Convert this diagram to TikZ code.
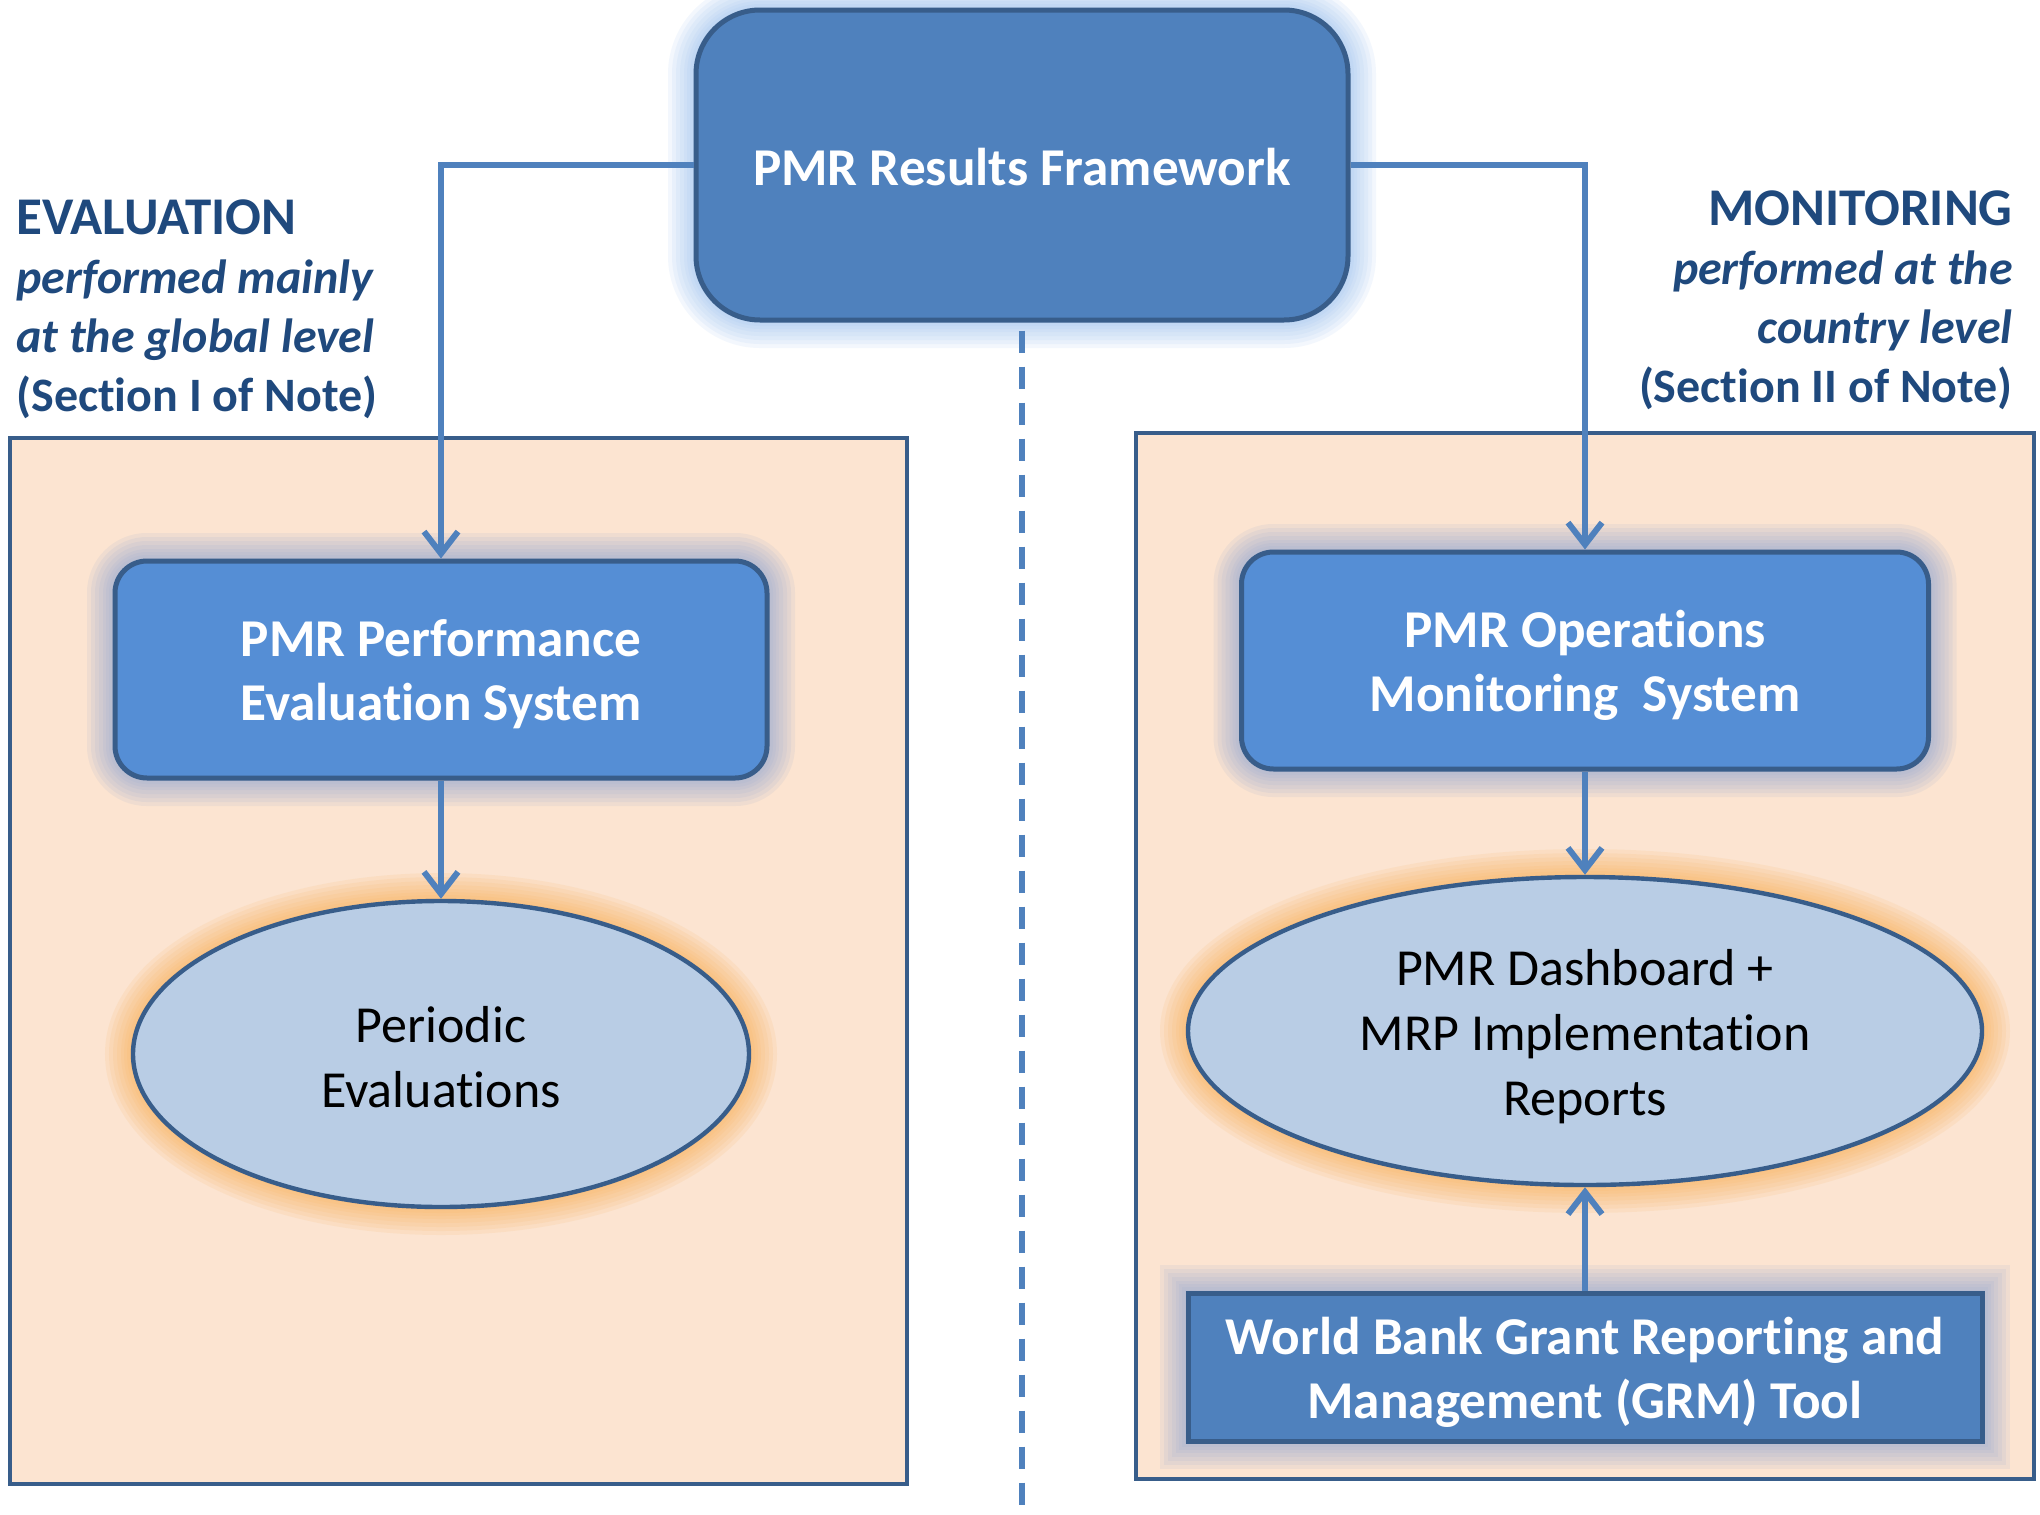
\documentclass[tikz,border=0pt]{standalone}
\usepackage{fontspec}
\setmainfont{Carlito}[Ligatures=NoCommon]
\usetikzlibrary{shapes.geometric,arrows.meta}
\definecolor{acc}{HTML}{4F81BD}
\definecolor{bord}{HTML}{385D8A}
\definecolor{boxmid}{HTML}{558ED5}
\definecolor{ellfill}{HTML}{B9CDE5}
\definecolor{panelfill}{HTML}{FCE4D1}
\definecolor{headtext}{HTML}{1F497D}
\definecolor{glowblue}{HTML}{9DC3F0}
\definecolor{glowgrey}{HTML}{93A9D0}
\definecolor{gloworange}{HTML}{F9B25C}
\begin{document}
\begin{tikzpicture}[x=0.5pt,y=-0.5pt,
  glow/.style={
    preaction={draw=#1,line width=28pt,draw opacity=0.12},
    preaction={draw=#1,line width=24pt,draw opacity=0.12},
    preaction={draw=#1,line width=20pt,draw opacity=0.12},
    preaction={draw=#1,line width=16pt,draw opacity=0.12},
    preaction={draw=#1,line width=12pt,draw opacity=0.12},
    preaction={draw=#1,line width=9pt,draw opacity=0.12},
    preaction={draw=#1,line width=6pt,draw opacity=0.12},
    preaction={draw=#1,line width=3pt,draw opacity=0.12}},
  panel/.style={rectangle,draw=bord,fill=panelfill,line width=2pt,inner sep=0pt},
  bluebox/.style={rectangle,draw=bord,line width=2.5pt,inner sep=0pt},
  ell/.style={ellipse,draw=bord,fill=ellfill,line width=2.2pt,inner sep=0pt,glow=gloworange},
  boxtext/.style={inner sep=0pt,align=center,text=white,font=\fontsize{26.6}{32}\selectfont\bfseries},
  elltext/.style={inner sep=0pt,align=center,text=black,font=\fontsize{26}{32.5}\selectfont},
  head/.style={inner sep=0pt,text=headtext,font=\fontsize{24}{29.5}\selectfont\bfseries},
  arr/.style={draw=acc,line width=3pt,-{Straight Barb[length=11pt,width=17pt,line width=3pt]}}]
\useasboundingbox (0,0) rectangle (2040,1515);
\fill[white] (0,0) rectangle (2040,1515);

% panels
\node[panel,minimum width=448.5pt,minimum height=523pt] (lpanel) at (458.5,961) {};
\node[panel,minimum width=449pt,minimum height=523pt] (rpanel) at (1585,956) {};

% dashed separator
\coordinate (dend) at (1022,1515);

% shapes
\node[bluebox,fill=acc,rounded corners=32pt,minimum width=326pt,minimum height=155pt,glow=glowblue] (top) at (1022,165) {};
\draw[acc,line width=3.3pt,dash pattern=on 11pt off 7pt] ([yshift=-4pt]top.south) -- (dend);

\node[bluebox,fill=boxmid,rounded corners=16pt,minimum width=326pt,minimum height=108.5pt,glow=glowgrey] (pes) at (441,669.5) {};
\node[bluebox,fill=boxmid,rounded corners=16pt,minimum width=343.5pt,minimum height=108.5pt,glow=glowgrey] (poms) at (1585,660.5) {};
\node[ell,minimum width=308pt,minimum height=153pt] (per) at (441,1054) {};
\node[ell,minimum width=397pt,minimum height=154pt] (dash) at (1585,1031) {};
\node[bluebox,fill=acc,minimum width=397pt,minimum height=74pt,glow=glowgrey] (grm) at (1585,1367) {};

% texts
\node[boxtext] (topt) at ([yshift=-1pt]top.center) {PMR Results Framework};
\node[boxtext] (pest) at ([yshift=-2.5pt]pes.center) {PMR Performance\\Evaluation System};
\node[boxtext] (pomst) at ([yshift=-2.5pt]poms.center) {PMR Operations\\Monitoring\ \ System};
\node[elltext] (pert) at ([yshift=-1.5pt]per.center) {Periodic\\Evaluations};
\node[elltext] (dasht) at ([yshift=-3pt]dash.center) {PMR Dashboard +\\MRP Implementation\\Reports};
\node[boxtext] (grmt) at ([yshift=-2.5pt]grm.center) {World Bank Grant Reporting and\\Management (GRM) Tool};

% headings
\node[head,anchor=west,align=left] (evl) at (16,309) {{\fontsize{26.5}{29.5}\selectfont EVALUATION}\\{\itshape performed mainly}\\{\itshape at the global level}\\(Section I of Note)};
\node[head,anchor=east,align=right] (mon) at (2013,300) {{\fontsize{26.5}{29.5}\selectfont MONITORING}\\{\itshape performed at the}\\{\itshape country level}\\(Section II of Note)};

% connectors
\draw[arr] (top.west) -| (pes.north);
\draw[arr] (top.east) -| (poms.north);
\draw[arr] (pes.south) -- (per.north);
\draw[arr] (poms.south) -- (dash.north);
\draw[arr] (grm.north) -- (dash.south);
\end{tikzpicture}
\end{document}
